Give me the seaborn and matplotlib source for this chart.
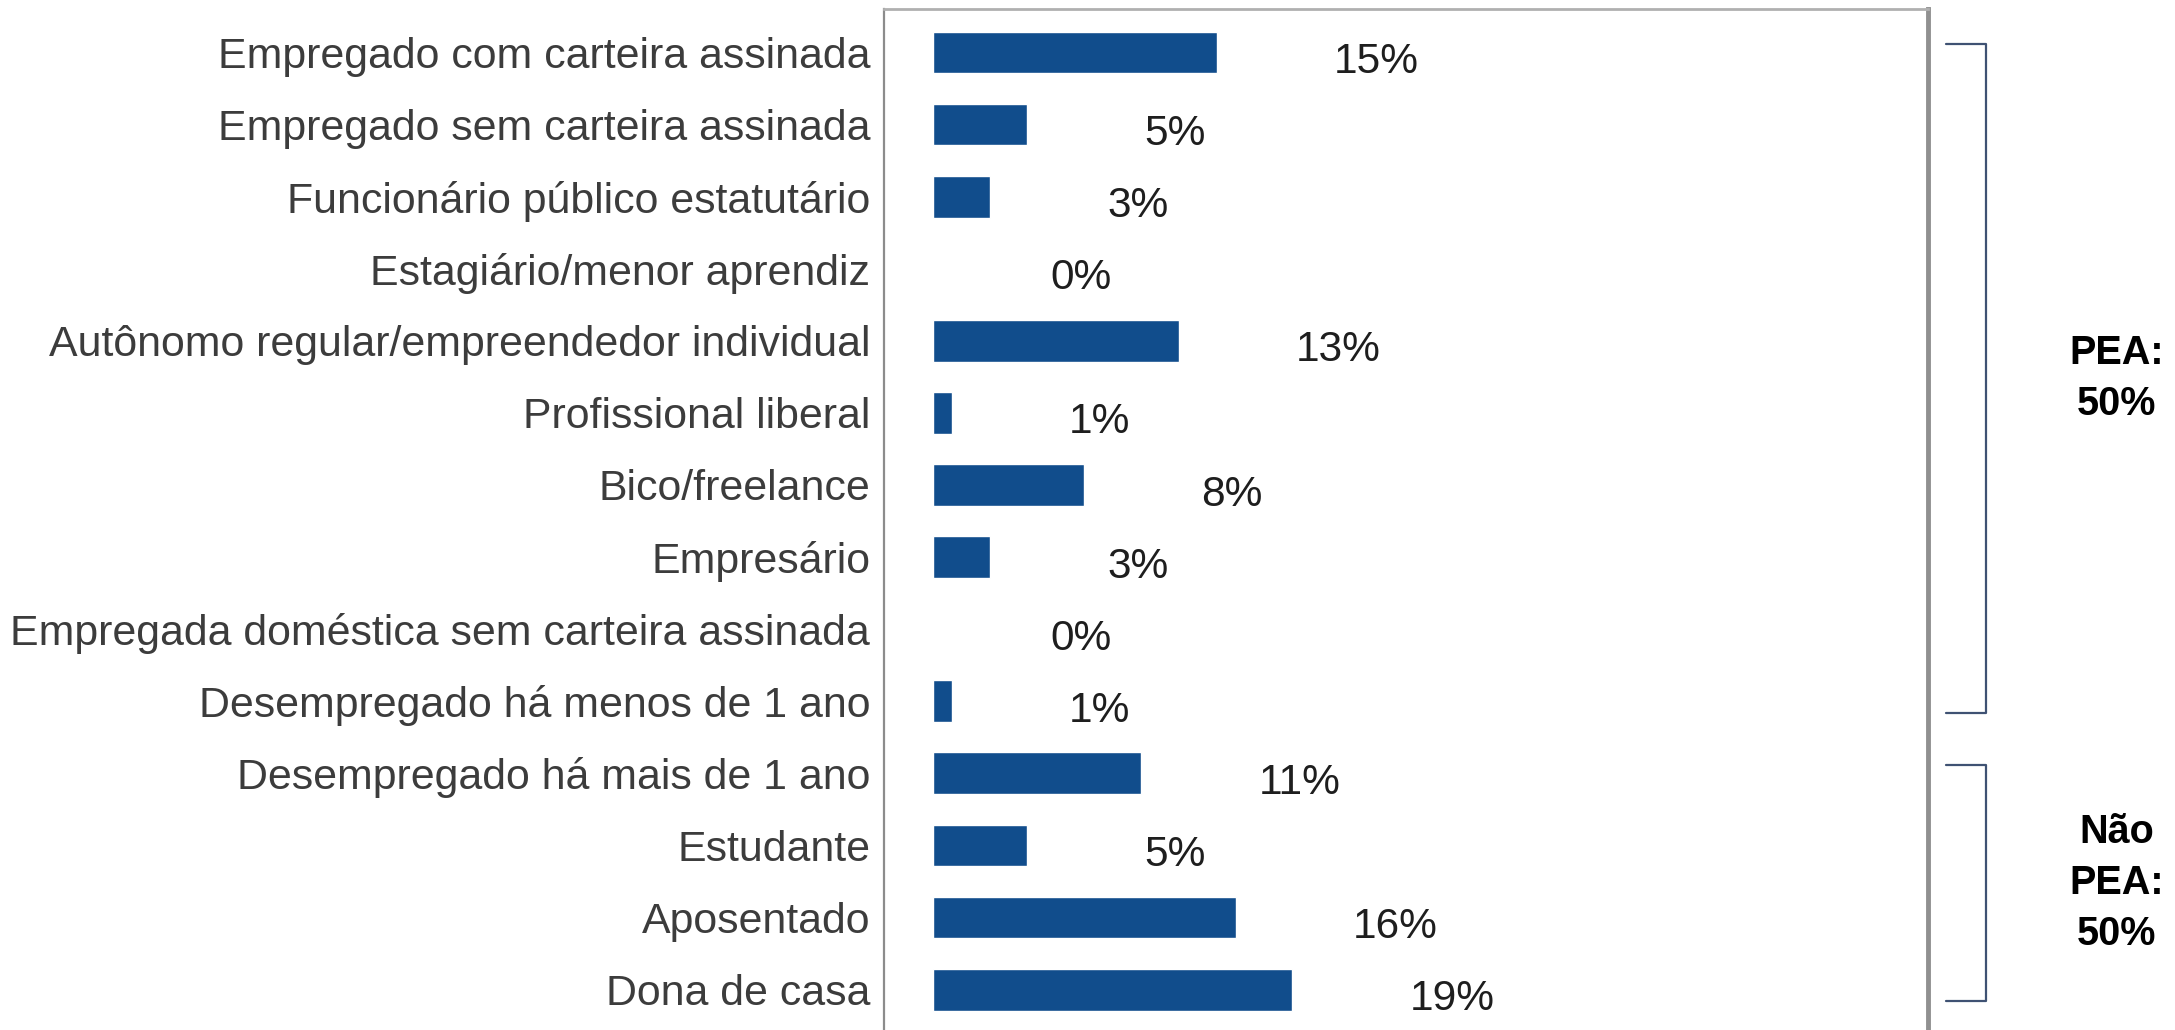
import matplotlib
matplotlib.use("Agg")
import matplotlib.pyplot as plt
import matplotlib.transforms as mtransforms
import pandas as pd
import seaborn as sns

# --- data ---
categorias = [
    "Empregado com carteira assinada",
    "Empregado sem carteira assinada",
    "Funcionário público estatutário",
    "Estagiário/menor aprendiz",
    "Autônomo regular/empreendedor individual",
    "Profissional liberal",
    "Bico/freelance",
    "Empresário",
    "Empregada doméstica sem carteira assinada",
    "Desempregado há menos de 1 ano",
    "Desempregado há mais de 1 ano",
    "Estudante",
    "Aposentado",
    "Dona de casa",
]
percentuais = [15, 5, 3, 0, 13, 1, 8, 3, 0, 1, 11, 5, 16, 19]
grupo = ["PEA"] * 10 + ["Não PEA"] * 4
rotulo_grupo = {"PEA": "PEA:\n50%", "Não PEA": "Não\nPEA:\n50%"}

df = pd.DataFrame({"categoria": categorias, "pct": percentuais, "grupo": grupo})

sns.set_style("white")
plt.rcParams["font.family"] = ["Liberation Sans", "DejaVu Sans"]

BAR = "#114d8c"
BRACKET = "#3f5273"

fig = plt.figure(figsize=(21.75, 10.3), dpi=100)
ax = fig.add_axes([0.4064, 0.0, 0.48, 0.9913])

sns.barplot(data=df, x="pct", y="categoria", orient="h", color=BAR,
            width=0.58, saturation=1, ax=ax)

ax.set_xlim(-2.59, 52.6)
ax.set_ylim(13.56, -0.603)
ax.set_xlabel("")
ax.set_ylabel("")
ax.set_xticks([])
ax.tick_params(axis="y", length=0, pad=10, labelsize=30.9, labelcolor="#3c3c3c")

ax.spines["bottom"].set_visible(False)
ax.spines["left"].set_color("#8c8c8c")
ax.spines["left"].set_linewidth(1.6)
ax.spines["top"].set_color("#b0b0b0")
ax.spines["top"].set_linewidth(2)
ax.spines["right"].set_color("#909090")
ax.spines["right"].set_linewidth(3.5)

# value labels
for i, v in enumerate(df["pct"]):
    ax.text(v + 6.2, i + 0.07, f"{v}%", va="center_baseline", ha="left",
            fontsize=30.5, color="#1e1e1e")

# group brackets + labels
tr = mtransforms.blended_transform_factory(ax.transAxes, ax.transData)
for g, sub in df.groupby("grupo", sort=False):
    first, last = sub.index.min(), sub.index.max()
    y0, y1 = first - 0.12, last + 0.16
    ax.plot([1.0172, 1.0556, 1.0556, 1.0172], [y0, y0, y1, y1],
            transform=tr, clip_on=False, color=BRACKET, lw=1.6,
            solid_joinstyle="round")
    ax.text(1.181, (first + last) / 2 + 0.02, rotulo_grupo[g], transform=tr,
            ha="center", va="center", multialignment="center",
            fontsize=28.5, fontweight="bold", color="black", linespacing=1.42)

fig.savefig("out.png", dpi=100, facecolor="white")
